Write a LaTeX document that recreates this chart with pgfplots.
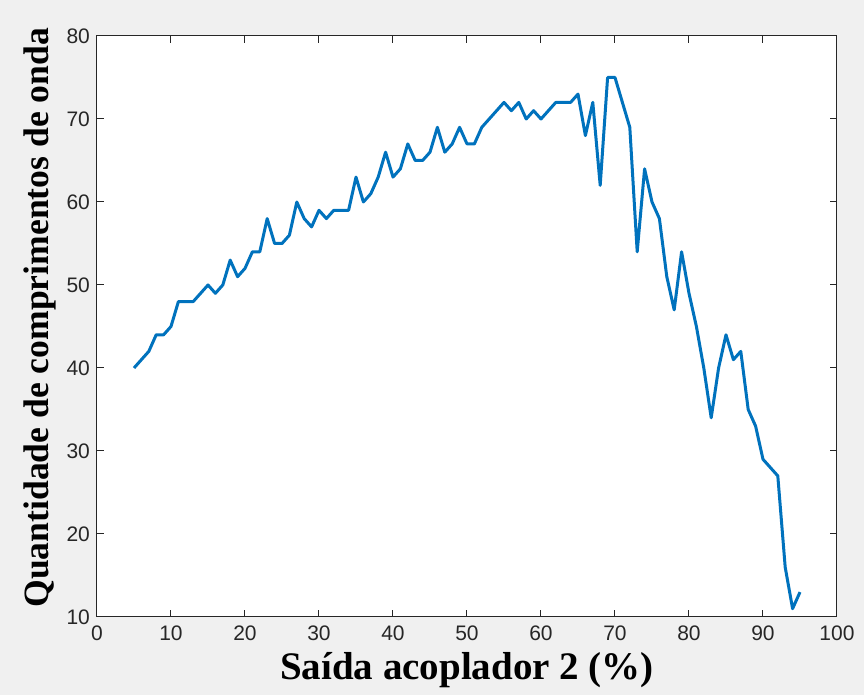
\documentclass[border=0pt]{standalone}
\usepackage{fontspec}
\setmainfont{Liberation Sans}
\newfontfamily\labelfont{Liberation Serif}
\usepackage{pgfplots}
\pgfplotsset{compat=1.18}
\definecolor{mlblue}{RGB}{0,114,189}
\definecolor{mlaxis}{RGB}{38,38,38}
\definecolor{figbg}{RGB}{240,240,240}

\pgfplotstableread{
x y
5 40
6 41
7 42
8 44
9 44
10 45
11 48
12 48
13 48
14 49
15 50
16 49
17 50
18 53
19 51
20 52
21 54
22 54
23 58
24 55
25 55
26 56
27 60
28 58
29 57
30 59
31 58
32 59
33 59
34 59
35 63
36 60
37 61
38 63
39 66
40 63
41 64
42 67
43 65
44 65
45 66
46 69
47 66
48 67
49 69
50 67
51 67
52 69
53 70
54 71
55 72
56 71
57 72
58 70
59 71
60 70
61 71
62 72
63 72
64 72
65 73
66 68
67 72
68 62
69 75
70 75
71 72
72 69
73 54
74 64
75 60
76 58
77 51
78 47
79 54
80 49
81 45
82 40
83 34
84 40
85 44
86 41
87 42
88 35
89 33
90 29
91 28
92 27
93 16
94 11
95 13
}\wavedata

\begin{document}
\begin{tikzpicture}
% figure background, 864x695 px at 0.5pt per px
\fill[figbg] (-48.5pt,-39pt) rectangle (383.5pt,308.5pt);
\begin{axis}[
  at={(0,0)}, anchor=south west,
  scale only axis,
  width=370pt, height=290.5pt,
  xmin=0, xmax=100, ymin=10, ymax=80,
  xtick={0,10,...,100}, ytick={10,20,...,80},
  axis background/.style={fill=white},
  axis line style={mlaxis, line width=0.5pt},
  tick style={mlaxis, line width=0.5pt},
  tick align=inside,
  major tick length=3.5pt,
  ticklabel style={font=\fontsize{10.5}{12}\selectfont, text=mlaxis},
  /pgf/number format/assume math mode=true,
  xticklabel style={yshift=-1pt},
  xlabel={Saída acoplador 2 (\%)},
  ylabel={Quantidade de comprimentos de onda},
  xlabel style={font=\labelfont\bfseries\fontsize{19.5}{22}\selectfont, at={(axis description cs:0.5,-0.091)}, anchor=center},
  ylabel style={font=\labelfont\bfseries\fontsize{17.8}{20}\selectfont, at={(axis description cs:-0.077,0.515)}, anchor=center},
]
\addplot[mlblue, line width=1.5pt, line join=round] table[x=x,y=y] {\wavedata};
\end{axis}
\end{tikzpicture}
\end{document}
